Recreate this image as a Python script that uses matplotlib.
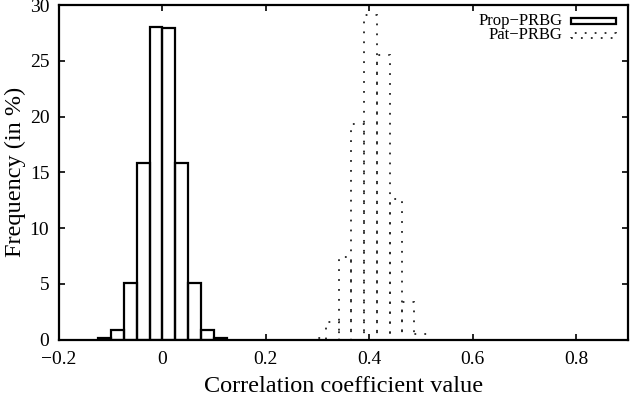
import numpy as np
import matplotlib
matplotlib.use("Agg")
import matplotlib.pyplot as plt
from matplotlib.patches import Rectangle

# histogram bins (centers) and frequencies in %
prop_x = [-0.1125, -0.0875, -0.0625, -0.0375, -0.0125, 0.0125, 0.0375, 0.0625, 0.0875, 0.1125]
prop_y = [0.1, 0.85, 5.05, 15.8, 28.05, 27.9, 15.8, 5.05, 0.85, 0.1]

pat_x = [0.305, 0.329, 0.353, 0.377, 0.402, 0.427, 0.451, 0.475, 0.499]
pat_y = [0.1, 1.6, 7.4, 19.3, 29.1, 25.5, 12.6, 3.4, 0.5]

xticks = [-0.2, 0, 0.2, 0.4, 0.6, 0.8]
yticks = [0, 5, 10, 15, 20, 25, 30]

plt.rcParams['font.family'] = ['Liberation Serif', 'DejaVu Serif']

fig = plt.figure(figsize=(6.32, 4.0), dpi=100)
ax = fig.add_axes([0.0934, 0.151, 0.9003, 0.8365])

dots = (0, (1, 4.5))
ax.bar(prop_x, prop_y, width=0.025, fill=False, edgecolor='black', linewidth=1.6)
ax.bar(pat_x, pat_y, width=0.024, fill=False, edgecolor='#222222', linewidth=1.3,
       linestyle=dots)

ax.set_xlim(-0.2, 0.9)
ax.set_ylim(0, 30)
ax.set_xticks(xticks)
ax.set_xticklabels(['\u22120.2', '0', '0.2', '0.4', '0.6', '0.8'])
ax.set_yticks(yticks)
ax.tick_params(direction='in', length=4.5, width=1.2, top=True, right=True,
               labelsize=14)
ax.tick_params(axis='x', pad=8)
ax.tick_params(axis='y', pad=7)
for s in ax.spines.values():
    s.set_linewidth(1.6)

ax.set_xlabel('Correlation coefficient value', fontsize=17.5, labelpad=6)
ax.set_ylabel('Frequency (in %)', fontsize=17.5, labelpad=3)

# legend drawn by hand (gnuplot style)
ax.text(0.885, 0.953, 'Prop\u2212PRBG', transform=ax.transAxes, ha='right', va='center', fontsize=12)
ax.text(0.885, 0.910, 'Pat\u2212PRBG', transform=ax.transAxes, ha='right', va='center', fontsize=12)
ax.add_patch(Rectangle((0.9, 0.942), 0.078, 0.018, transform=ax.transAxes,
                       fill=False, edgecolor='black', linewidth=1.6))
ax.add_patch(Rectangle((0.9, 0.901), 0.078, 0.016, transform=ax.transAxes,
                       fill=False, edgecolor='#222222', linewidth=1.3, linestyle=dots))

fig.savefig('out.png', dpi=100)
